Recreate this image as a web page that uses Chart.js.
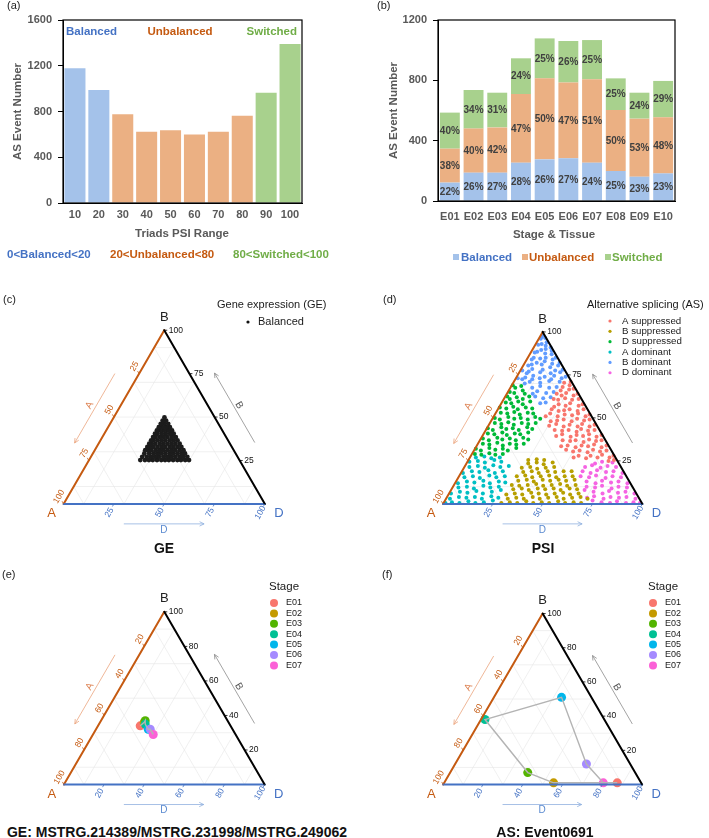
<!DOCTYPE html>
<html><head><meta charset="utf-8">
<script src="https://cdn.jsdelivr.net/npm/chart.js@4.4.1/dist/chart.umd.min.js"></script>
<style>
html,body{margin:0;padding:0;background:#fff}
#fig{position:relative;width:709px;height:838px;overflow:hidden;font-family:"Liberation Sans",Arial,sans-serif}
canvas{position:absolute}
.t{position:absolute;white-space:nowrap;line-height:1}
.pl{font-size:11px;color:#222}
.rg{font-size:11.5px;font-weight:bold}
.ti{font-size:14px;font-weight:bold;color:#111;transform:translate(-50%,-50%)}
</style></head><body>
<div id="fig">
<canvas id="ca" width="350" height="240" style="left:0;top:0"></canvas>
<canvas id="cb" width="359" height="265" style="left:350px;top:0"></canvas>
<canvas id="cc" width="350" height="300" style="left:0;top:240px"></canvas>
<canvas id="cd" width="359" height="300" style="left:350px;top:240px"></canvas>
<canvas id="ce" width="350" height="280" style="left:0;top:540px"></canvas>
<canvas id="cf" width="359" height="280" style="left:350px;top:540px"></canvas>
<div class="t pl" style="left:7px;top:0px">(a)</div>
<div class="t pl" style="left:377px;top:0px">(b)</div>
<div class="t pl" style="left:3px;top:294px">(c)</div>
<div class="t pl" style="left:383px;top:294px">(d)</div>
<div class="t pl" style="left:2px;top:569px">(e)</div>
<div class="t pl" style="left:382px;top:569px">(f)</div>
<div class="t rg" style="left:7px;top:249px;color:#4472C4">0&lt;Balanced&lt;20</div>
<div class="t rg" style="left:110px;top:249px;color:#C55A11">20&lt;Unbalanced&lt;80</div>
<div class="t rg" style="left:233px;top:249px;color:#70AD47">80&lt;Switched&lt;100</div>
<div class="t ti" style="left:164px;top:548px">GE</div>
<div class="t ti" style="left:543px;top:548px">PSI</div>
<div class="t ti" style="left:177px;top:832px">GE: MSTRG.214389/MSTRG.231998/MSTRG.249062</div>
<div class="t ti" style="left:545px;top:832px">AS: Event0691</div>
</div>
<script>
// ---------- (a) data ----------
const psiRange = ['10','20','30','40','50','60','70','80','90','100'];
const psiEventCount = [1178, 988, 775, 622, 636, 600, 622, 762, 965, 1390];
const psiCategory = ['Balanced','Balanced','Unbalanced','Unbalanced','Unbalanced','Unbalanced','Unbalanced','Unbalanced','Switched','Switched'];
const yTicksA = [0, 400, 800, 1200, 1600];
const classNames = ['Balanced','Unbalanced','Switched'];

// ---------- (b) data ----------
const stages = ['E01','E02','E03','E04','E05','E06','E07','E08','E09','E10'];
const balancedCount   = [122,188,188,254,276,283,254,199,161,183];
const unbalancedCount = [225,292,300,455,537,502,553,404,385,372];
const switchedCount   = [239,256,230,237,265,276,260,210,172,241];
const balancedPct   = [22,26,27,28,26,27,24,25,23,23];
const unbalancedPct = [38,40,42,47,50,47,51,50,53,48];
const switchedPct   = [40,34,31,24,25,26,25,25,24,29];
const yTicksB = [0, 400, 800, 1200];

// ---------- ternary axes ----------
const ternTicks25 = [25, 50, 75, 100];
const ternTicks20 = [20, 40, 60, 80, 100];
const ternGrid = [10, 30, 50, 70, 90];

// ---------- (c) GE balanced triads: rows of B, with A values (D = 100-A-B) ----------
const geRowB = [25.2,27.1,29.0,30.9,32.8,34.7,36.6,38.5,40.4,42.3,44.2,46.1,48.0,49.8];
const geRowA = [
 [25.1,27.0,29.1,30.9,33.0,35.1,37.0,38.9,41.0,43.1,45.0,47.0,49.3],
 [25.0,27.1,28.9,31.0,33.1,35.0,36.9,39.1,41.0,43.0,45.1,47.4],
 [25.2,27.0,29.0,31.1,32.9,35.0,37.1,39.0,40.9,43.0,45.4],
 [25.0,26.9,29.1,31.0,33.0,35.1,37.0,38.9,41.1,43.0,44.0],
 [25.1,27.0,29.0,30.9,33.1,35.0,37.0,39.1,41.0,42.0],
 [25.0,27.1,29.0,31.0,33.0,34.9,37.1,39.0,40.1],
 [25.1,27.0,28.9,31.1,33.0,35.0,37.0,38.2],
 [25.0,27.0,29.1,31.0,32.9,35.0,36.3],
 [25.1,26.9,29.0,31.0,33.1,34.4],
 [25.0,27.0,29.0,31.0,32.5],
 [25.1,27.0,29.0,30.6],
 [25.0,27.0,28.7],
 [25.1,26.8],
 [25.0]
];

// ---------- (d) AS groups ----------
const asGroupNames = ['A suppressed','B suppressed','D suppressed','A dominant','B dominant','D dominant'];
// A suppressed: [A, B]
const asSuppA_AB = [[0.5,71],[2,69],[4,70.5],[1,67],[3.5,66.5],[6,68],[8,66],
[0.5,64],[3,63],[6,64.5],[9,63],[11,64],[1.5,61],[5,60.5],[8,61.5],[12,60.5],[14,61],
[1,58],[3.5,57],[7,58.5],[10,57],[13,58],[16,56.5],[2,55],[5.5,54],[9,55],[12,54.5],[15,54],[18,55],
[0.5,52],[3,51],[6,52.5],[9.5,51.5],[13,52],[17,51],[20,52.5],[23,51],[2,49],[5,48.5],[8,49.5],[11.5,48],[15,49],[18.5,48.5],[22,48],
[1,46],[4,45],[7,46.5],[10,45],[13.5,46],[17,45],[20,46.5],[24,45.5],[2.5,43],[6,42.5],[9,43.5],[12,42],[15.5,43],[19,42.5],[22.5,43],
[0.5,40],[3.5,39],[6.5,40.5],[10,39.5],[13,40],[16.5,39],[20,40.5],[23.5,39.5],[2,37],[5,36.5],[8,37.5],[11.5,36],[15,37],[18,36.5],[21.5,37],
[1,34],[4,33],[7,34.5],[10.5,33.5],[13.5,34],[17,33],[20.5,34],[24,33.5],[2.5,31],[6,30.5],[9,31.5],[12.5,30],[16,31],[19.5,30.5],[22.5,31.5],
[0.5,28],[3,27],[6,28.5],[9,27],[12,28],[15,26.5],[18,28],[21,27],[1.5,25.5],[4.5,25]];
// B suppressed: [B, D]
const asSuppB_BD = [[0.5,29],[1,33],[0.5,37],[1.5,41],[0.5,45],[1,49],[0.5,53],[1.5,57],[0.5,61],[1,65],[0.5,69],[3,31],[3.5,35],[3,39],[4,43],[3,47],[3.5,51],[4,55],[3,59],[3.5,63],[4,67],[3,71],
[5.5,29],[6,33],[5.5,37],[6.5,41],[6,45],[5.5,49],[6,53],[6.5,57],[5.5,61],[6,65],[8.5,31],[9,35],[8,39],[9,43],[8.5,47],[9,51],[8,55],[9,59],[8.5,63],
[11,29],[10.5,33],[11,37],[11.5,41],[10.5,45],[11,49],[11.5,53],[10.5,57],[11,61],[13.5,31],[14,35],[13,39],[14,43],[13.5,47],[14,51],[13.5,55],[14,59],
[16,29],[16.5,33],[15.5,37],[16,41],[16.5,45],[15.5,49],[16,53],[16,57],[18.5,31],[19,35],[18,39],[19,43],[18.5,47],[19,51],[19,55],
[21,29],[21.5,33],[20.5,37],[21,41],[21.5,45],[23.5,31],[24,35],[23,39],[24,43],[25.5,30],[26,34],[25.5,38]];
// D suppressed: [D, B]
const asSuppD_DB = [[0.5,69],[2.5,67.5],[5,68.5],[1,65],[3.5,64.5],[7,66],[9,64],
[1,62.5],[3,61],[6,62],[9.5,61],[12,62.5],[2,59],[5,58.5],[8,59.5],[11,58],[14,59.5],
[0.5,56],[4,55.5],[7,56.5],[10,55],[13.5,56],[17,55.5],[2.5,53],[6,52.5],[9,53.5],[12.5,52],[16,53],[19,52.5],
[1,50],[4,49],[7.5,50.5],[11,49.5],[14,50],[18,49],[21,50.5],[24,49.5],[2.5,47],[6,46.5],[9,47.5],[12.5,46],[16,47],[19.5,46.5],[23,47],
[0.5,44],[3.5,43],[7,44.5],[10,43.5],[13,44],[16.5,43],[20,44.5],[23,43.5],[2,41],[5.5,40.5],[9,41.5],[12,40],[15.5,41],[18.5,40.5],[22,41.5],
[1,38],[4.5,37],[8,38.5],[11,37.5],[14.5,38],[18,37],[21,38.5],[24,37.5],[2.5,35],[6,34.5],[9.5,35.5],[13,34],[16,35],[19.5,34.5],[23,35],
[0.5,32],[3.5,31],[7,32.5],[10.5,31.5],[14,32],[17,31],[20.5,32.5],[1.5,29],[5,28.5],[8.5,29.5],[12,28.5],[15.5,29]];
// A dominant: [B, D]
const asDomA_BD = [[0.5,1],[1,4],[0.5,8],[1.5,12],[0.5,16],[1,20],[2,24],[3,2],[4,6],[3.5,10],[4,14],[3,18],[4.5,22],[3.5,26],
[6,1],[7,5],[6.5,9],[7.5,13],[6,17],[7,21],[8,25],[9.5,3],[10,7],[9,11],[10.5,15],[9.5,19],[10,23],
[12,1.5],[13,5.5],[12.5,9.5],[13.5,13.5],[12,17.5],[13,21.5],[12.5,25],[15.5,3],[16,7],[15,11],[16.5,15],[15.5,19],[16,23],
[18,1],[19,5],[18.5,9],[19.5,13],[18,17],[19,20.5],[21.5,2.5],[22,6.5],[21,10.5],[22.5,14],[21.5,18],[22,22],
[24.5,1],[25,5],[24,9],[25.5,13],[24.5,17],[27,3],[27.5,7],[26.5,11],[27,15]];
// B dominant: [A, B]
const asDomB_AB = [[1,98],[2,97],[0.5,96.5],[3,96],[1,94],[4,93],[6,92.5],[2.5,92],[0.5,91],[1,89],[3.5,90],[6,89.5],[8.5,88.5],[2,87],[5,87.5],[10,88],
[1,85],[3,84],[6,85],[9,84.5],[12,85],[13.5,84],[7.5,83],[0.5,82],[2,80.5],[4.5,81.5],[10,81],[12,82],[15,81],[17,80.5],[6.5,79.5],
[1,78],[3,76.5],[5,77.5],[8,76],[11,78],[13,76.5],[16,78.5],[18.5,77],[20,76],[21.5,77.5],
[1.5,74],[4,73],[7,74.5],[9.5,72.5],[12,74],[15,73],[17.5,74.5],[19,72.5],[22,73.5],[24,72.5],[26,73],
[6,71],[11,71.5],[16,70.5],[21,71],[24,70],[9,68],[13,67.5],[17,68.5],[21.5,67.5],[12,65],[16,64.5],[20,65.5],[23,64],
[15,62],[19,61.5],[22.5,62.5],[19,59],[22,58.5]];
// D dominant: [A, B]
const asDomD_AB = [[1,0.5],[4,1],[8,0.5],[12,1.5],[16,0.5],[20,1],[24,2],[2,3],[6,4],[10,3.5],[14,4],[18,3],[22,4.5],[26,3.5],
[1,6],[5,7],[9,6.5],[13,7.5],[17,6],[21,7],[25,8],[3,9.5],[7,10],[11,9],[15,10.5],[19,9.5],[23,10],
[1.5,12],[5.5,13],[9.5,12.5],[13.5,13.5],[17.5,12],[21.5,13],[3,15.5],[7,16],[11,15],[15,16.5],[19,15.5],[23,16],
[1,18],[5,19],[9,18.5],[13,19.5],[17,18],[20.5,19],[2.5,21.5],[6.5,22],[10.5,21],[14,22.5],[18,21.5],[3,24],[8,24.5],[12,23.5]];

// ---------- (e) / (f) stage trajectories ----------
const stageNames = ['E01','E02','E03','E04','E05','E06','E07'];
const geStageA = [45,42,41,42,42,41,41];
const geStageB = [34,36,37,35,32,32,29];
const geStageD = [21,22,22,23,26,27,30];
const asStageA = [12,44,54,60,15,22,19];
const asStageB = [1,1,7,38,51,12,1];
const asStageD = [87,55,39,2,34,66,80];

// ---------- styles ----------
const FONT = '"Liberation Sans", Arial, Helvetica, sans-serif';
const CLASS_FILL = {Balanced:'#A4C2EA', Unbalanced:'#EBB083', Switched:'#A8D18D'};
const CLASS_TEXT = {Balanced:'#4472C4', Unbalanced:'#C55A11', Switched:'#70AD47'};
const AXIS_GRAY = '#595959';
const ORANGE = '#C55A11', BLUE = '#4472C4';
const AS_COLORS = ['#F8766D','#B79F00','#00BA38','#00BFC4','#619CFF','#F564E3'];
const STAGE_COLORS = ['#F8766D','#C49A00','#53B400','#00C094','#00B6EB','#A58AFF','#FB61D7'];
const SQ3 = Math.sqrt(3)/2;

function txt(ctx, s, x, y, o = {}) {
  ctx.save();
  ctx.translate(x, y);
  if (o.rot) ctx.rotate(o.rot);
  ctx.font = (o.weight || 'bold') + ' ' + (o.size || 11) + 'px ' + FONT;
  ctx.fillStyle = o.color || AXIS_GRAY;
  ctx.textAlign = o.align || 'center';
  ctx.textBaseline = o.base || 'middle';
  ctx.fillText(s, 0, 0);
  ctx.restore();
}
const boxPlugin = { id:'box', afterDatasetsDraw(ch){ const a=ch.chartArea, c=ch.ctx; c.save(); c.strokeStyle='#000'; c.lineWidth=1.2; c.strokeRect(a.left, a.top, a.right-a.left, a.bottom-a.top); c.restore(); } };

function barScales(yTicks, yWidth, xHeight, xPad, stacked) {
  const tf = {family:FONT, size:11, weight:'bold'};
  return {
    x: { stacked, grid:{display:false, drawTicks:false}, border:{display:true,color:'#000',width:1},
         ticks:{color:AXIS_GRAY, font:tf, padding:xPad, maxRotation:0, autoSkip:false},
         afterFit(s){ s.height = xHeight; } },
    y: { stacked, min:yTicks[0], max:yTicks[yTicks.length-1],
         afterBuildTicks(s){ s.ticks = yTicks.map(v => ({value:v})); },
         grid:{drawOnChartArea:false, drawTicks:true, tickLength:5, color:'#000'},
         border:{display:true,color:'#000',width:1},
         ticks:{color:AXIS_GRAY, font:tf, padding:6, callback:(v) => String(v)},
         afterFit(s){ s.width = yWidth; } }
  };
}

// ---------- (a) ----------
new Chart(document.getElementById('ca'), {
  type:'bar',
  data:{ labels:psiRange, datasets:[{ data:psiEventCount, backgroundColor:psiCategory.map(c => CLASS_FILL[c]), borderWidth:0, barPercentage:0.88, categoryPercentage:1 }] },
  options:{ responsive:false, animation:false, events:[],
    layout:{padding:{left:0, top:20, right:48, bottom:0}},
    plugins:{legend:{display:false}, tooltip:{enabled:false}},
    scales: barScales(yTicksA, 63, 37, 5, false) },
  plugins:[boxPlugin, { id:'aText', afterDraw(ch){
    const c = ch.ctx, a = ch.chartArea;
    txt(c, 'AS Event Number', 18, (a.top+a.bottom)/2, {size:11.5, rot:-Math.PI/2});
    txt(c, 'Triads PSI Range', 182, 234, {size:11.5});
    txt(c, classNames[0], 66, 32, {size:11.5, color:CLASS_TEXT.Balanced, align:'left'});
    txt(c, classNames[1], 180, 32, {size:11.5, color:CLASS_TEXT.Unbalanced});
    txt(c, classNames[2], 297, 32, {size:11.5, color:CLASS_TEXT.Switched, align:'right'});
  }}]
});

// ---------- (b) ----------
const pctLists = [balancedPct, unbalancedPct, switchedPct];
new Chart(document.getElementById('cb'), {
  type:'bar',
  data:{ labels:stages, datasets:[
    { label:classNames[0], data:balancedCount, backgroundColor:CLASS_FILL.Balanced, borderWidth:0, barPercentage:0.84, categoryPercentage:1 },
    { label:classNames[1], data:unbalancedCount, backgroundColor:CLASS_FILL.Unbalanced, borderWidth:0, barPercentage:0.84, categoryPercentage:1 },
    { label:classNames[2], data:switchedCount, backgroundColor:CLASS_FILL.Switched, borderWidth:0, barPercentage:0.84, categoryPercentage:1 }
  ]},
  options:{ responsive:false, animation:false, events:[],
    layout:{padding:{left:0, top:20, right:34, bottom:34}},
    plugins:{legend:{display:false}, tooltip:{enabled:false}},
    scales: barScales(yTicksB, 88, 30, 9, true) },
  plugins:[boxPlugin, { id:'bText', afterDraw(ch){
    const c = ch.ctx, a = ch.chartArea;
    ch.data.datasets.forEach((ds, i) => {
      ch.getDatasetMeta(i).data.forEach((el, j) => {
        txt(c, pctLists[i][j] + '%', el.x, (el.y + el.base)/2 + 0.5, {size:10, color:'#404040'});
      });
    });
    txt(c, 'AS Event Number', 44, (a.top+a.bottom)/2, {size:11.5, rot:-Math.PI/2});
    txt(c, 'Stage & Tissue', 204, 235, {size:11.5});
    const lx = [[103,111],[172,179],[255,262]];
    classNames.forEach((n, i) => {
      c.fillStyle = CLASS_FILL[n]; c.fillRect(lx[i][0], 254, 6, 6);
      txt(c, n, lx[i][1], 257.5, {size:11.5, color:CLASS_TEXT[n], align:'left'});
    });
  }}]
});

// ---------- ternary helper ----------
function tp(a, b, d) { return {x: d + b/2, y: b*SQ3}; }
function arrow(ctx, x1, y1, x2, y2, color) {
  ctx.save(); ctx.strokeStyle = color; ctx.lineWidth = 0.8;
  ctx.beginPath(); ctx.moveTo(x1, y1); ctx.lineTo(x2, y2); ctx.stroke();
  const ang = Math.atan2(y2-y1, x2-x1), L = 5, w = Math.PI/7;
  ctx.beginPath();
  ctx.moveTo(x2 - L*Math.cos(ang-w), y2 - L*Math.sin(ang-w));
  ctx.lineTo(x2, y2);
  ctx.lineTo(x2 - L*Math.cos(ang+w), y2 - L*Math.sin(ang+w));
  ctx.stroke(); ctx.restore();
}
function makeTernary(id, g) {
  const k = g.side/100;
  const P = (ch, a, b, d) => ({x: ch.scales.x.getPixelForValue(d + b/2), y: ch.scales.y.getPixelForValue(b*SQ3)});
  const seg = (ctx, p, q) => { ctx.beginPath(); ctx.moveTo(p.x, p.y); ctx.lineTo(q.x, q.y); ctx.stroke(); };
  const plugin = { id:'tern_' + id,
    beforeDatasetsDraw(ch) {
      const ctx = ch.ctx; ctx.save(); ctx.strokeStyle = '#E6E6E6'; ctx.lineWidth = 0.6;
      for (const v of ternGrid) {
        seg(ctx, P(ch,100-v,v,0), P(ch,0,v,100-v));
        seg(ctx, P(ch,v,100-v,0), P(ch,v,0,100-v));
        seg(ctx, P(ch,100-v,0,v), P(ch,0,100-v,v));
      }
      ctx.restore();
    },
    afterDatasetsDraw(ch) {
      const ctx = ch.ctx;
      const pA = P(ch,100,0,0), pB = P(ch,0,100,0), pD = P(ch,0,0,100);
      ctx.save(); ctx.lineWidth = 2; ctx.lineCap = 'round';
      ctx.strokeStyle = ORANGE; seg(ctx, pA, pB);
      ctx.strokeStyle = BLUE; seg(ctx, pA, pD);
      ctx.strokeStyle = '#000'; seg(ctx, pB, pD);
      ctx.restore();
      ctx.save(); ctx.lineWidth = 0.8;
      for (const t of g.ticks) {
        let p = P(ch, t, 100-t, 0);
        ctx.strokeStyle = ORANGE; seg(ctx, p, {x:p.x-1.5, y:p.y-2.6});
        txt(ctx, String(t), p.x-4.5, p.y-7.2, {size:8.5, weight:'normal', color:ORANGE, rot:-Math.PI/3});
        p = P(ch, 0, t, 100-t);
        ctx.strokeStyle = '#000'; seg(ctx, p, {x:p.x+3, y:p.y});
        txt(ctx, String(t), p.x+4.5, p.y, {size:8.5, weight:'normal', color:'#111', align:'left'});
        p = P(ch, 100-t, 0, t);
        ctx.strokeStyle = BLUE; seg(ctx, p, {x:p.x-1.5, y:p.y+2.6});
        txt(ctx, String(t), p.x-4.5, p.y+8.7, {size:8.5, weight:'normal', color:BLUE, rot:-Math.PI/3});
      }
      ctx.restore();
      txt(ctx, 'A', pA.x-12, pA.y+10, {size:13, weight:'normal', color:ORANGE});
      txt(ctx, 'B', pB.x, pB.y-13, {size:13, weight:'normal', color:'#222'});
      txt(ctx, 'D', pD.x+14, pD.y+10, {size:13, weight:'normal', color:BLUE});
      const L = Math.hypot(pB.x-pA.x, pB.y-pA.y);
      const uA = {x:(pB.x-pA.x)/L, y:(pB.y-pA.y)/L}, nA = {x:-SQ3, y:-0.5};
      const at = (o, u, n, f, off) => ({x:o.x + u.x*L*f + n.x*off, y:o.y + u.y*L*f + n.y*off});
      let s = at(pA,uA,nA,0.69,21), e = at(pA,uA,nA,0.29,21), m = at(pA,uA,nA,0.49,27);
      arrow(ctx, s.x, s.y, e.x, e.y, '#EBA57E');
      txt(ctx, 'A', m.x, m.y, {size:10, weight:'normal', color:'#DD8050', rot:-Math.PI/3});
      const uB = {x:(pB.x-pD.x)/L, y:(pB.y-pD.y)/L}, nB = {x:SQ3, y:-0.5};
      s = at(pD,uB,nB,0.29,22); e = at(pD,uB,nB,0.69,22); m = at(pD,uB,nB,0.49,27);
      arrow(ctx, s.x, s.y, e.x, e.y, '#8C8C8C');
      txt(ctx, 'B', m.x, m.y, {size:10, weight:'normal', color:'#555', rot:Math.PI/3});
      const uD = {x:1, y:0}, nD = {x:0, y:1};
      s = at(pA,uD,nD,0.30,20); e = at(pA,uD,nD,0.70,20); m = at(pA,uD,nD,0.5,26);
      arrow(ctx, s.x, s.y, e.x, e.y, '#8FB0DE');
      txt(ctx, 'D', m.x, m.y, {size:10, weight:'normal', color:'#5A8AD0'});
      const lg = g.legend;
      txt(ctx, lg.title, lg.titleX, lg.titleY, {size:lg.titleSize, weight:'normal', color:'#1a1a1a', align:'left'});
      lg.items.forEach((it, i) => {
        const y = lg.y0 + i*lg.dy;
        ctx.save(); ctx.fillStyle = it.color; ctx.beginPath(); ctx.arc(lg.dotX, y, lg.r, 0, 2*Math.PI); ctx.fill(); ctx.restore();
        txt(ctx, it.label, lg.textX, y, {size:lg.textSize, weight:'normal', color:'#1a1a1a', align:'left'});
      });
    }
  };
  return new Chart(document.getElementById(id), {
    type:'scatter',
    data:{ datasets:g.datasets },
    options:{ responsive:false, animation:false, events:[],
      layout:{padding:0},
      plugins:{legend:{display:false}, tooltip:{enabled:false}},
      scales:{ x:{display:false, min:-g.Ax/k, max:(g.W-g.Ax)/k}, y:{display:false, min:-(g.H-g.Ay)/k, max:g.Ay/k} } },
    plugins:[plugin]
  });
}
const dot = (data, color, r) => ({ data, pointRadius:r, pointBackgroundColor:color, pointBorderWidth:0, showLine:false });

// ---------- (c) ----------
const gePts = [];
geRowB.forEach((b, i) => geRowA[i].forEach(a => gePts.push(tp(a, b, 100-a-b))));
makeTernary('cc', { W:350, H:300, Ax:61, Ay:267, side:206, ticks:ternTicks25,
  datasets:[dot(gePts, '#1c1c1c', 2.4)],
  legend:{ title:'Gene expression (GE)', titleX:217, titleY:65, titleSize:11,
    items:[{label:'Balanced', color:'#111'}], y0:82, dy:10, dotX:248, r:1.6, textX:258, textSize:11 } });

// ---------- (d) ----------
const asSets = [
  asSuppA_AB.map(([a,b]) => tp(a, b, 100-a-b)),
  asSuppB_BD.map(([b,d]) => tp(100-b-d, b, d)),
  asSuppD_DB.map(([d,b]) => tp(100-b-d, b, d)),
  asDomA_BD.map(([b,d]) => tp(100-b-d, b, d)),
  asDomB_AB.map(([a,b]) => tp(a, b, 100-a-b)),
  asDomD_AB.map(([a,b]) => tp(a, b, 100-a-b))
];
makeTernary('cd', { W:359, H:300, Ax:91, Ay:267, side:204, ticks:ternTicks25,
  datasets: asSets.map((pts, i) => dot(pts, AS_COLORS[i], 2.0)),
  legend:{ title:'Alternative splicing (AS)', titleX:237, titleY:65, titleSize:11,
    items: asGroupNames.map((n, i) => ({label:n, color:AS_COLORS[i]})), y0:81, dy:10.35, dotX:260, r:1.6, textX:272, textSize:9.7 } });

// ---------- (e) / (f) ----------
function stageSets(A, B, D) {
  const pts = A.map((a, i) => tp(a, B[i], D[i]));
  return [
    { data:pts, showLine:true, borderColor:'#B4B4B4', borderWidth:1.4, pointRadius:0 },
    dot(pts, STAGE_COLORS, 4.5)
  ];
}
const stageLegend = (x) => ({ title:'Stage', titleX:x, titleY:47, titleSize:11.5,
  items: stageNames.map((n, i) => ({label:n, color:STAGE_COLORS[i]})), y0:63, dy:10.4, dotX:x+5, r:4, textX:x+17, textSize:9 });
makeTernary('ce', { W:350, H:280, Ax:61, Ay:248, side:206, ticks:ternTicks20,
  datasets: stageSets(geStageA, geStageB, geStageD), legend: stageLegend(269) });
makeTernary('cf', { W:359, H:280, Ax:91, Ay:248, side:204, ticks:ternTicks20,
  datasets: stageSets(asStageA, asStageB, asStageD), legend: stageLegend(298) });
</script>
</body></html>
